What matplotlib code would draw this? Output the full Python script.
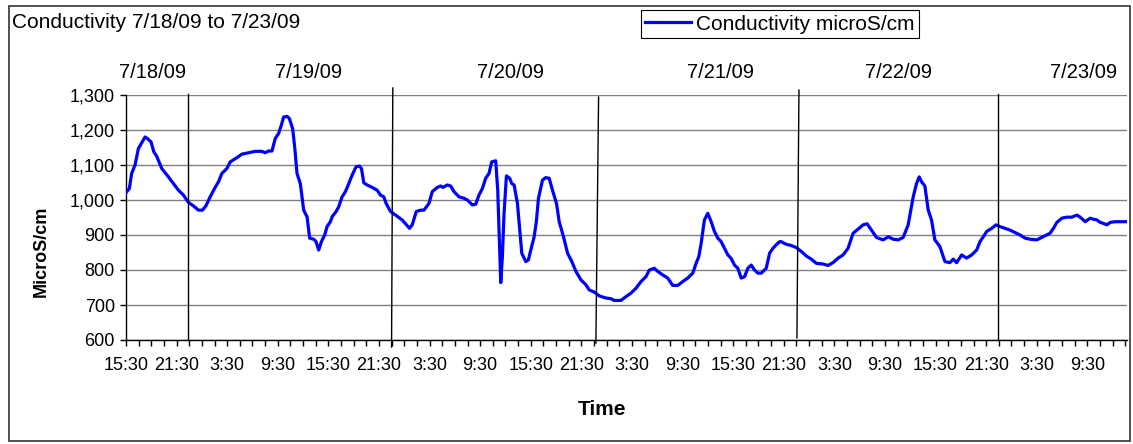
import matplotlib
matplotlib.use('Agg')
import matplotlib.pyplot as plt
from matplotlib.patches import Rectangle
from matplotlib.ticker import FuncFormatter, MultipleLocator

plt.rcParams['font.family'] = ['Liberation Sans', 'DejaVu Sans']

# hours since 7/18/09 15:30
hours = [0.00, 0.40, 0.67, 1.07, 1.47, 1.86, 2.26, 2.57, 2.97, 3.29, 3.64, 4.24, 5.03, 5.62,
         6.22, 6.81, 7.41, 8.00, 8.59, 9.07, 9.47, 9.98, 10.57, 10.97, 11.37, 11.96, 12.36,
         13.15, 13.74, 14.53, 15.33, 16.12, 16.51, 16.91, 17.31, 17.70, 18.10, 18.42, 18.69,
         19.09, 19.37, 19.76, 20.00, 20.28, 20.67, 21.07, 21.47, 21.78, 22.26, 22.53, 22.85,
         23.17, 23.56, 23.84, 24.24, 24.44, 24.91, 25.23, 25.62, 26.02, 26.42, 26.81, 27.29,
         27.68, 27.92, 28.20, 28.59, 29.19, 29.78, 30.18, 30.57, 30.85,
         31.37, 31.96, 32.75, 33.62, 33.94, 34.42, 34.93, 35.33, 35.92, 36.32, 36.91, 37.31,
         37.58, 38.10, 38.50, 38.89, 39.49, 40.08, 40.48, 41.07, 41.47, 41.86, 42.26, 42.65,
         43.05, 43.37, 43.84, 44.08, 44.32, 44.44, 44.63, 44.83, 45.11, 45.50, 45.74, 46.02,
         46.42, 46.69, 46.93, 47.41, 47.72, 48.00, 48.40, 48.67, 48.91, 49.39, 49.78, 50.18,
         50.57, 51.05, 51.37, 51.88, 52.36, 52.87, 53.35, 53.94, 54.53, 54.93, 55.52, 56.12,
         56.91, 57.50, 57.90, 58.69, 59.29, 59.88, 60.48, 61.07, 61.66, 62.06, 62.65, 63.05,
         63.64, 64.24, 64.83, 65.43, 66.02, 66.61, 67.21, 67.60, 67.92, 68.20, 68.59, 68.99,
         69.39, 69.78, 70.18, 70.57, 70.97, 71.37, 71.76, 72.16, 72.55, 72.95, 73.35, 73.74,
         74.14, 74.53, 74.93, 75.33, 75.92, 76.32, 76.71, 77.11, 77.50,
         77.70, 78.22, 78.89, 79.49, 80.08, 80.67, 81.27, 81.86, 82.65, 83.25, 83.84, 84.44,
         85.03, 85.62, 86.22, 86.81, 87.41, 87.88, 88.40, 88.99, 89.78, 90.38, 90.97, 91.56,
         92.16, 92.75, 93.35, 93.74, 94.06, 94.34, 94.73, 95.13, 95.52, 95.92, 96.51, 97.11,
         97.70, 98.10, 98.50, 99.09, 99.68, 100.28, 100.87, 101.27, 101.66, 102.06, 102.65,
         103.17, 103.64, 104.24, 104.83, 105.43, 106.02, 106.61, 107.21, 108.00, 108.40,
         108.99, 109.58, 109.98, 110.38, 110.97, 111.56, 112.16, 112.75, 113.15, 113.74,
         114.34, 114.73, 115.13, 115.53, 115.92, 116.32, 116.71, 117.31, 117.90, 118.61]

conductivity = [1021, 1033, 1076, 1100, 1147, 1163, 1180, 1175, 1166, 1138, 1125, 1090, 1066, 1047,
                1028, 1014, 993, 983, 971, 971, 983, 1009, 1036, 1052, 1076, 1090, 1109,
                1121, 1131, 1135, 1139, 1139, 1135, 1140, 1140, 1176, 1190, 1214, 1237,
                1239, 1233, 1204, 1152, 1076, 1047, 971, 952, 891, 888, 881, 857,
                881, 900, 924, 938, 952, 967, 981, 1009, 1024, 1047, 1071, 1095,
                1097, 1090, 1049, 1043, 1036, 1028, 1014, 1009, 990,
                967, 957, 943, 919, 929, 967, 971, 971, 990, 1024, 1036, 1040,
                1036, 1043, 1040, 1024, 1009, 1005, 1000, 986, 988, 1014, 1033, 1062,
                1076, 1109, 1112, 1028, 848, 764, 838, 962, 1069, 1062, 1047, 1043,
                990, 914, 848, 824, 829, 857, 895, 940, 1005, 1057, 1064, 1062,
                1028, 990, 938, 895, 848, 824, 796, 772, 758, 743, 737, 726,
                720, 718, 713, 713, 724, 734, 748, 767, 781, 800, 805, 796,
                786, 777, 756, 756, 767, 777, 791, 819, 838, 876, 943, 962,
                938, 910, 891, 881, 862, 843, 833, 814, 805, 777, 781, 805,
                814, 800, 791, 791, 805, 848, 862, 872, 881,
                881, 874, 870, 864, 853, 840, 831, 819, 817, 813, 821, 834,
                843, 862, 905, 917, 929, 932, 914, 893, 886, 895, 888, 886,
                893, 929, 1009, 1047, 1066, 1052, 1040, 971, 943, 886, 867, 824,
                821, 831, 821, 843, 834, 843, 857, 881, 895, 910, 919,
                929, 924, 919, 914, 907, 900, 891, 888, 886, 891,
                898, 905, 919, 936, 948, 951, 951, 957, 951, 938,
                948, 945, 943, 936, 933, 929, 936, 938, 938, 938]

time_labels = ['15:30', '21:30', '3:30', '9:30'] * 5

date_labels = ['7/18/09', '7/19/09', '7/20/09', '7/21/09', '7/22/09', '7/23/09']
date_label_hours = [3.1, 21.7, 45.6, 70.5, 91.6, 113.6]

# hand drawn day separators (top / bottom ends)
sep_top_h = [7.33, 31.64, 56.04, 79.80, 103.45]
sep_top_v = [1303, 1320, 1294, 1314, 1303]
sep_bot_h = [7.33, 31.49, 55.72, 79.56, 103.45]
sep_bot_v = [600, 580, 591, 606, 600]

fig = plt.figure(figsize=(11.33, 4.44), dpi=100)
ax = fig.add_axes([126 / 1133, 1 - 340 / 444, 1001 / 1133, 245 / 444])

ax.plot(hours, conductivity, color='#0000ff', lw=2.3, label='Conductivity microS/cm',
        zorder=3, solid_joinstyle='round')
for th, tv, bh, bv in zip(sep_top_h, sep_top_v, sep_bot_h, sep_bot_v):
    ax.plot([th, bh], [tv, bv], color='black', lw=1.0, clip_on=False, zorder=4)

ax.set_xlim(0, 118.7)
ax.set_ylim(600, 1300)
ax.set_yticks(range(600, 1301, 100))
ax.yaxis.set_major_formatter(FuncFormatter(lambda v, p: f'{v:,.0f}'))
ax.grid(axis='y', color='#808080', lw=1.0)
ax.set_axisbelow(True)
ax.spines['top'].set_visible(False)
ax.spines['right'].set_visible(False)
ax.spines['left'].set_linewidth(1.0)
ax.spines['bottom'].set_linewidth(1.0)

ax.set_xticks(range(0, 115, 6))
ax.set_xticklabels(time_labels)
ax.xaxis.set_minor_locator(MultipleLocator(1.5))
ax.tick_params(axis='x', which='both', length=4, width=1, direction='out', pad=8, labelsize=13)
ax.tick_params(axis='y', length=4, width=1, direction='out', pad=4, labelsize=13)

for h, lbl in zip(date_label_hours, date_labels):
    ax.text(h, 1.09, lbl, transform=ax.get_xaxis_transform(), ha='center', va='center', fontsize=14.5)

fig.text(12 / 1133, 1 - 23 / 444, 'Conductivity 7/18/09 to 7/23/09', ha='left', va='center', fontsize=15)
fig.text(41 / 1133, 1 - 251 / 444, 'MicroS/cm', rotation=90, ha='center', va='center',
         fontsize=13, fontweight='bold')
fig.text(602 / 1133, 1 - 409 / 444, 'Time', ha='center', va='center', fontsize=15, fontweight='bold')

leg = fig.legend(loc='center', bbox_to_anchor=(780 / 1133, 1 - 24 / 444), frameon=True, fancybox=False,
                 edgecolor='black', fontsize=15, handlelength=2.2, handletextpad=0.25,
                 borderpad=0.2, borderaxespad=0, framealpha=1)
leg.get_frame().set_linewidth(0.8)

fig.patches.append(Rectangle((9 / 1133, 3 / 444), 1121 / 1133, 435 / 444, transform=fig.transFigure,
                             fill=False, edgecolor='#333333', lw=1.2))

plt.savefig('out.png', dpi=100)
